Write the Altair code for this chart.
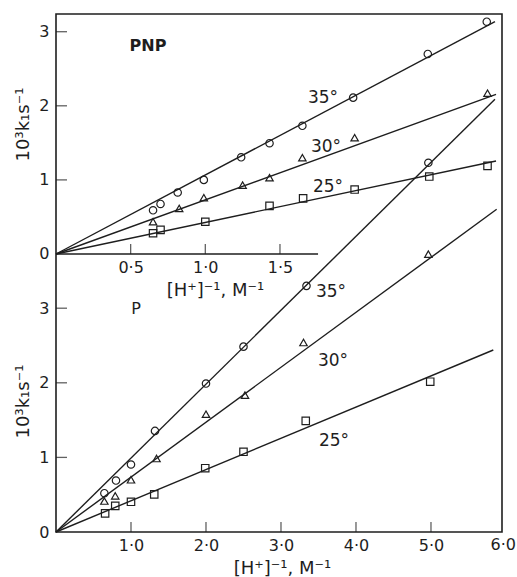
import altair as alt
import pandas as pd

INK = "#1e1e1e"
FONT = "DejaVu Sans"

# ---------------- upper panel: PNP ----------------
pnp_series = ["35°", "30°", "25°"]
pnp_35_x = [0.65, 0.70, 0.815, 0.99, 1.24, 1.43, 1.65, 1.99, 2.49, 2.885]
pnp_35_y = [0.59, 0.675, 0.83, 1.0, 1.305, 1.495, 1.73, 2.11, 2.70, 3.135]
pnp_30_x = [0.65, 0.825, 0.99, 1.25, 1.43, 1.65, 2.0, 2.89]
pnp_30_y = [0.435, 0.615, 0.76, 0.93, 1.03, 1.30, 1.57, 2.17]
pnp_25_x = [0.65, 0.70, 1.0, 1.43, 1.655, 2.0, 2.5, 2.89]
pnp_25_y = [0.28, 0.325, 0.435, 0.65, 0.75, 0.87, 1.045, 1.19]
# fitted lines (start, end)
pnp_line_x = [[0.0, 2.94], [0.0, 2.947], [0.0, 2.947]]
pnp_line_y = [[0.0, 3.135], [0.0, 2.155], [0.0, 1.255]]
pnp_label_x = [1.788, 1.808, 1.822]
pnp_label_y = [2.105, 1.444, 0.904]
pnp_xticks = [0.5, 1.0, 1.5]
pnp_yticks = [0, 1, 2, 3]
pnp_axis_end = 1.755
pnp_name_xy = [0.616, 2.807]

# ---------------- lower panel: P ----------------
p_series = ["35°", "30°", "25°"]
p_35_x = [0.645, 0.80, 1.0, 1.32, 2.0, 2.50, 3.34, 4.965]
p_35_y = [0.52, 0.69, 0.905, 1.355, 1.99, 2.485, 3.30, 4.95]
p_30_x = [0.645, 0.79, 1.0, 1.34, 2.0, 2.52, 3.30, 4.965]
p_30_y = [0.415, 0.485, 0.70, 0.985, 1.58, 1.835, 2.54, 3.725]
p_25_x = [0.655, 0.79, 1.0, 1.31, 1.99, 2.50, 3.33, 4.99]
p_25_y = [0.25, 0.35, 0.405, 0.505, 0.855, 1.075, 1.49, 2.015]
p_line_x = [[0.0, 5.853], [0.0, 5.876], [0.0, 5.831]]
p_line_y = [[0.0, 5.80], [0.0, 4.326], [0.0, 2.44]]
p_label_x = [3.667, 3.693, 3.707]
p_label_y = [3.217, 2.292, 1.22]
p_xticks = [1, 2, 3, 4, 5]
p_last_xtick = [6.0]
p_yticks = [0, 1, 2, 3]
p_name_xy = [1.067, 2.989]

YTITLE = "10³k₁s⁻¹"
XTITLE = "[H⁺]⁻¹, M⁻¹"

shape_scale = alt.Scale(domain=["35°", "30°", "25°"], range=["circle", "triangle-up", "square"])


def points_df(xs_list, ys_list, names):
    rows = []
    for xs, ys, n in zip(xs_list, ys_list, names):
        for a, b in zip(xs, ys):
            rows.append({"x": a, "y": b, "s": n})
    return pd.DataFrame(rows)


def lines_df(xs_list, ys_list, names):
    rows = []
    for xs, ys, n in zip(xs_list, ys_list, names):
        for i, (a, b) in enumerate(zip(xs, ys)):
            rows.append({"x": a, "y": b, "s": n, "o": i})
    return pd.DataFrame(rows)


dot_fmt = "replace(format(datum.value, '.1f'), '.', '·')"

# scales: plot area 446 x 518 px
W, H = 446, 518
xb_scale = alt.Scale(domain=[0, 5.947], nice=False, zero=False)
yb_scale = alt.Scale(domain=[0, 6.944], nice=False, zero=False)
xt_scale = alt.Scale(domain=[0, 2.987], nice=False, zero=False)
yt_scale = alt.Scale(domain=[-3.752, 3.239], nice=False, zero=False)

common_axis = dict(grid=False, domain=False, tickSize=0, labelFont=FONT, labelFontSize=16,
                   labelColor=INK, titleFont=FONT, titleFontSize=18, titleFontWeight="normal",
                   titleColor=INK, labelFlush=False, labelOverlap=False, labelBound=False)

xb_axis = alt.Axis(orient="bottom", values=p_xticks, labelExpr=dot_fmt, labelPadding=5,
                   title=XTITLE, titleX=226, titleY=36, titleAlign="center",
                   titleBaseline="middle", **common_axis)
yb_axis = alt.Axis(orient="left", values=p_yticks, format="d", labelPadding=7,
                   title=YTITLE, titleX=-33, titleY=387, titleAngle=-90, titleAlign="center",
                   titleBaseline="middle", **common_axis)
xt_axis = alt.Axis(orient="bottom", offset=-278, values=pnp_xticks, labelExpr=dot_fmt,
                   labelPadding=5, title=XTITLE, titleX=159, titleY=36, titleAlign="center",
                   titleBaseline="middle", **common_axis)
yt_axis = alt.Axis(orient="left", values=pnp_yticks, format="d", labelPadding=7,
                   title=YTITLE, titleX=-33, titleY=110, titleAngle=-90, titleAlign="center",
                   titleBaseline="middle", **common_axis)


def XB(f="x"):
    return alt.X(f"{f}:Q", scale=xb_scale, axis=xb_axis)


def YB(f="y"):
    return alt.Y(f"{f}:Q", scale=yb_scale, axis=yb_axis)


def XT(f="x"):
    return alt.X(f"{f}:Q", scale=xt_scale, axis=xt_axis)


def YT(f="y"):
    return alt.Y(f"{f}:Q", scale=yt_scale, axis=yt_axis)


def panel(X, Y, pts, lns, lab_x, lab_y, names, xticks, yticks, name, name_xy, name_bold,
          axis_end=None, extra_xlabels=None):
    lines = alt.Chart(lns).mark_line(color=INK, strokeWidth=1.4).encode(
        x=X(), y=Y(), detail="s:N", order="o:Q")
    marks = alt.Chart(pts).mark_point(filled=False, color=INK, strokeWidth=1.2, size=55,
                                      opacity=1).encode(
        x=X(), y=Y(), shape=alt.Shape("s:N", scale=shape_scale, legend=None))
    labs = alt.Chart(pd.DataFrame({"x": lab_x, "y": lab_y, "t": names})).mark_text(
        font=FONT, fontSize=17, color=INK, align="center", baseline="middle").encode(
        x=X(), y=Y(), text="t:N")
    xt = alt.Chart(pd.DataFrame({"x": xticks, "y": 0})).mark_tick(
        orient="vertical", size=10, yOffset=-5, thickness=1.3, color=INK).encode(x=X(), y=Y())
    yt = alt.Chart(pd.DataFrame({"x": 0, "y": [v for v in yticks if v > 0]})).mark_tick(
        orient="horizontal", size=11, xOffset=5.5, thickness=1.3, color=INK).encode(x=X(), y=Y())
    nm = alt.Chart(pd.DataFrame({"x": [name_xy[0]], "y": [name_xy[1]], "t": [name]})).mark_text(
        font=FONT, fontSize=16, fontWeight="bold" if name_bold else "normal", color=INK,
        align="center", baseline="middle").encode(x=X(), y=Y(), text="t:N")
    layers = [lines, marks, labs, xt, yt, nm]
    if axis_end is not None:
        ax = alt.Chart(pd.DataFrame({"x": [0.0], "x2": [axis_end], "y": [0.0]})).mark_rule(
            color=INK, strokeWidth=1.4).encode(x=X(), x2=alt.X2("x2"), y=Y())
        layers.append(ax)
    if extra_xlabels:
        ex = alt.Chart(pd.DataFrame({"x": extra_xlabels, "y": 0.0,
                                     "t": [f"{v:.1f}".replace(".", "·") for v in extra_xlabels]})
                       ).mark_text(font=FONT, fontSize=16, color=INK, align="right",
                                   baseline="top", dy=5, dx=10).encode(x=X(), y=Y(), text="t:N")
        layers.append(ex)
    return alt.layer(*layers)


lower = panel(XB, YB,
              points_df([p_35_x, p_30_x, p_25_x], [p_35_y, p_30_y, p_25_y], p_series),
              lines_df(p_line_x, p_line_y, p_series),
              p_label_x, p_label_y, p_series, p_xticks, p_yticks, "P", p_name_xy, False,
              extra_xlabels=p_last_xtick)
upper = panel(XT, YT,
              points_df([pnp_35_x, pnp_30_x, pnp_25_x], [pnp_35_y, pnp_30_y, pnp_25_y], pnp_series),
              lines_df(pnp_line_x, pnp_line_y, pnp_series),
              pnp_label_x, pnp_label_y, pnp_series, pnp_xticks, pnp_yticks, "PNP", pnp_name_xy,
              True, axis_end=pnp_axis_end)

chart = alt.layer(lower, upper).resolve_scale(
    x="independent", y="independent", shape="independent"
).properties(
    width=W, height=H,
    autosize=alt.AutoSizeParams(type="none"),
    padding={"left": 56, "top": 14, "right": 15, "bottom": 45},
    background="white",
).configure_view(stroke=INK, strokeWidth=1.6)

chart.save("out.html", embed_options={"renderer": "svg", "actions": False})
